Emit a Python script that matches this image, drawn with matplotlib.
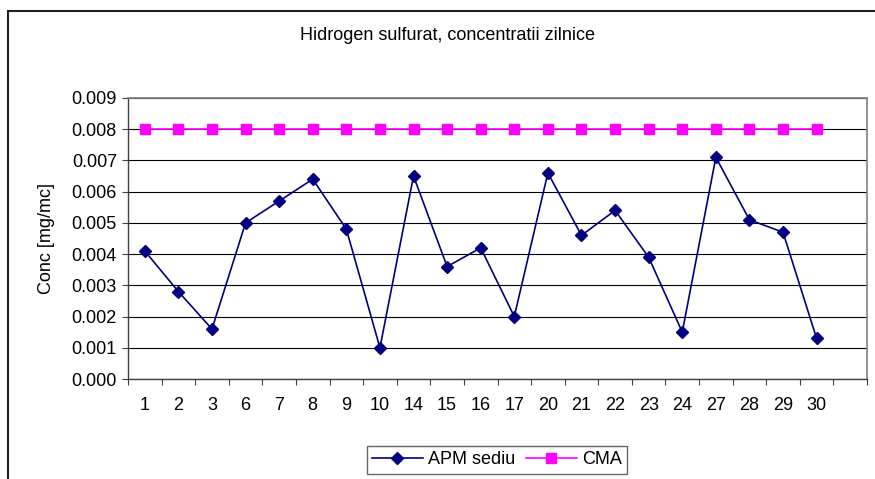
import numpy as np
import matplotlib
matplotlib.use("Agg")
import matplotlib.pyplot as plt
from matplotlib.patches import Rectangle

plt.rcParams['font.family'] = ['Liberation Sans', 'DejaVu Sans']

# === Data ===
days = ['1', '2', '3', '6', '7', '8', '9', '10', '14', '15', '16', '17',
        '20', '21', '22', '23', '24', '27', '28', '29', '30', '']
apm_sediu = [0.0041, 0.0028, 0.0016, 0.0050, 0.0057, 0.0064, 0.0048, 0.0010,
             0.0065, 0.0036, 0.0042, 0.0020, 0.0066, 0.0046, 0.0054, 0.0039,
             0.0015, 0.0071, 0.0051, 0.0047, 0.0013]
cma = [0.008] * 21
y_ticks = [0.000, 0.001, 0.002, 0.003, 0.004, 0.005, 0.006, 0.007, 0.008, 0.009]

W, H = 875, 479
fig = plt.figure(figsize=(W / 100, H / 100), dpi=100)
ax = fig.add_axes([128 / W, 1 - 379 / H, (867 - 128) / W, (379 - 98) / H])

x = np.arange(len(apm_sediu))
ax.plot(x, apm_sediu, color='#000080', marker='D', markersize=6.5, lw=1.2,
        label='APM sediu')
ax.plot(x, cma, color='#FF00FF', marker='s', markersize=6.5, lw=1.2,
        label='CMA')

# axes
ax.set_xlim(-0.5, len(days) - 0.5)
ax.set_ylim(0, 0.009)
ax.set_yticks(y_ticks)
ax.set_yticklabels(['%.3f' % v for v in y_ticks], fontsize=13)
ax.set_xticks(np.arange(len(days) + 1) - 0.5)
ax.set_xticklabels([])
ax.set_xticks(np.arange(len(days)), minor=True)
ax.set_xticklabels(days, minor=True, fontsize=13)
ax.tick_params(axis='x', which='major', direction='out', length=4, width=0.8, color='#404040')
ax.tick_params(axis='x', which='minor', length=0, pad=13)
ax.tick_params(axis='y', direction='out', length=4, width=0.8, color='#404040', pad=4)
ax.grid(axis='y', color='black', lw=0.8)
ax.set_axisbelow(True)
for side in ['top', 'right']:
    ax.spines[side].set_color('#808080')
    ax.spines[side].set_linewidth(1.2)
for side in ['left', 'bottom']:
    ax.spines[side].set_color('#404040')
    ax.spines[side].set_linewidth(1.0)

ax.set_ylabel('Conc [mg/mc]', fontsize=13)
ax.yaxis.set_label_coords((55 - 128) / (867 - 128), 0.5)

fig.text(447 / W, 1 - 36 / H, 'Hidrogen sulfurat, concentratii zilnice',
         ha='center', va='center', fontsize=13)

leg = fig.legend(loc='center', bbox_to_anchor=(497 / W, 1 - 460 / H), ncol=2,
                 frameon=True, fancybox=False, fontsize=13, handlelength=2.8,
                 columnspacing=0.6, handletextpad=0.3, borderpad=0.3)
leg.get_frame().set_edgecolor('#404040')
leg.get_frame().set_linewidth(1.0)

# outer chart border (cut off at right and bottom)
fig.patches.append(Rectangle((8 / W, -0.1), 1.2, 1.1 - 10.5 / H, transform=fig.transFigure,
                             fill=False, edgecolor='#202020', lw=1.5))

fig.savefig('out.png', dpi=100)
